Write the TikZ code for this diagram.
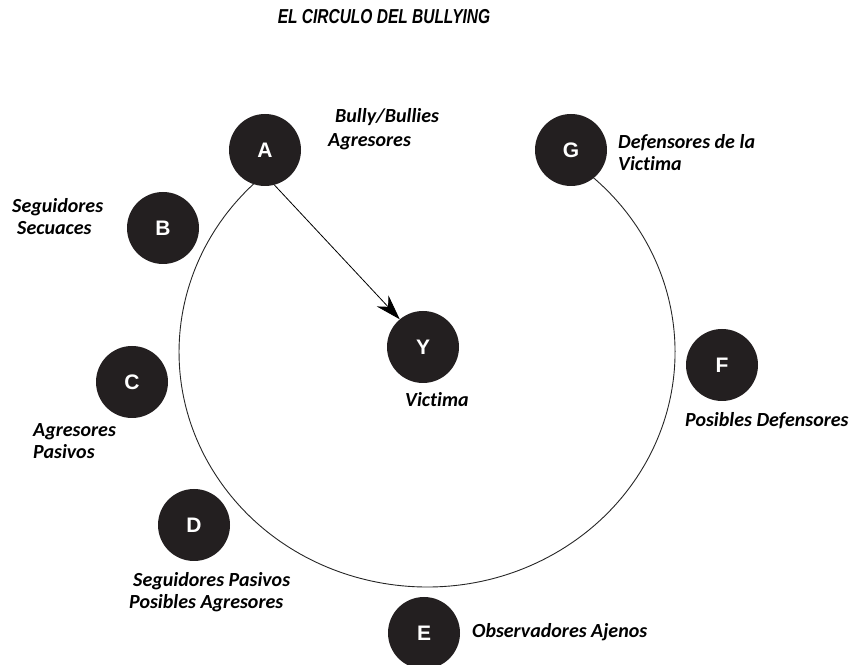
\documentclass[tikz,border=0pt]{standalone}
\usepackage{fontspec}
\setmainfont[Ligatures=NoCommon]{Carlito}
\newfontfamily\headfont{Liberation Sans}
\usetikzlibrary{arrows.meta}
\definecolor{disc}{HTML}{231F20}
\begin{document}
\begin{tikzpicture}[x=1pt,y=1pt,
  role/.style={circle,fill=disc,minimum size=72pt,inner sep=0pt,text=white,
    font=\headfont\bfseries\fontsize{21}{21}\selectfont},
  lbl/.style={anchor=base west,inner sep=0pt,
    font=\bfseries\itshape\fontsize{20}{22}\selectfont},
  ring/.style={draw=black!85,line width=0.9pt},
]
\useasboundingbox (0,0) rectangle (854,664);

% title
\node[anchor=base,inner sep=0pt,font=\headfont\bfseries\itshape\fontsize{15.5}{18}\selectfont]
  (title) at (384,640) {\scalebox{1}[1.3]{EL CIRCULO DEL BULLYING}};

% the open ring joining A (left side) round to G
\coordinate (ringstart) at (284.8,504.5);
\draw[ring] (ringstart) arc[start angle=125,end angle=414,x radius=248,y radius=235];

% roles
\node[role] (A) at (265,514) {A};
\node[role] (B) at (163,436) {B};
\node[role] (C) at (132,282) {C};
\node[role] (D) at (194,139) {D};
\node[role] (E) at (424,31)  {E};
\node[role] (F) at (722,299) {F};
\node[role] (G) at (571,514) {G};
\node[role] (Y) at (423,317) {Y};

% bully towards victim
\draw[line width=0.8pt,-{Stealth[length=25pt,width=16pt,inset=8pt]}] (A.-75) -- (Y.130);

% labels
\node[lbl] (lA1) at (335,541) {Bully/Bullies};
\node[lbl] (lA2) at (328,517) {Agresores};
\node[lbl] (lB1) at (12,451)  {Seguidores};
\node[lbl] (lB2) at (17,429)  {Secuaces};
\node[lbl] (lC1) at (33,227)  {Agresores};
\node[lbl] (lC2) at (33,205)  {Pasivos};
\node[lbl] (lD1) at (133,77)  {Seguidores Pasivos};
\node[lbl] (lD2) at (129,56)  {Posibles Agresores};
\node[lbl] (lE)  at (472,27)  {Observadores Ajenos};
\node[lbl] (lF)  at (685,237) {Posibles Defensores};
\node[lbl] (lG1) at (618,515) {Defensores de la};
\node[lbl] (lG2) at (618,493) {Victima};
\node[lbl] (lY)  at (405,257) {Victima};
\end{tikzpicture}
\end{document}
